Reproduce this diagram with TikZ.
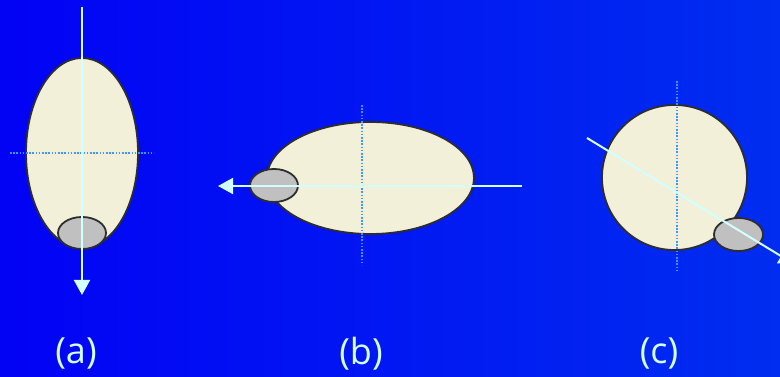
\documentclass[tikz,border=0pt]{standalone}
\usepackage{fontspec}
\setmainfont{Open Sans}
\usetikzlibrary{shapes.geometric,arrows.meta}
\definecolor{bgleft}{RGB}{2,2,245}
\definecolor{bgright}{RGB}{0,45,240}
\definecolor{grainfill}{RGB}{243,240,218}
\definecolor{grainline}{RGB}{45,45,45}
\definecolor{spotfill}{RGB}{192,192,192}
\definecolor{axiscol}{RGB}{210,255,255}
\definecolor{dotcol}{RGB}{60,150,255}
\begin{document}
\begin{tikzpicture}[x=1pt,y=1pt,
  grain/.style={ellipse, draw=grainline, fill=grainfill, line width=1.8pt, inner sep=0pt},
  spot/.style={ellipse, draw=grainline, fill=spotfill, line width=1.8pt, inner sep=0pt,
    minimum width=48, minimum height=32},
  guide/.style={dotcol, line width=1.6pt, dash pattern=on 1.6pt off 1.6pt},
  axis/.style={axiscol, line width=2pt, -{Triangle[length=15pt,width=16pt]}},
  caption/.style={axiscol, font=\fontsize{36}{38}\selectfont}]
% fondo
\useasboundingbox (0,0) rectangle (780,377);
\clip (0,0) rectangle (780,377);
\shade[left color=bgleft, right color=bgright] (0,0) rectangle (780,377);
% (a) grano vertical
\node[grain, minimum width=112, minimum height=190] (grainA) at (82,224) {};
\node[spot] (spotA) at (82,144) {};
\coordinate (guideA1) at (10,224);
\coordinate (guideA2) at (154,224);
\draw[guide] (guideA1) -- (guideA2);
\coordinate (axisA1) at (82,370);
\coordinate (axisA2) at (82,82);
\draw[axis] (axisA1) -- (axisA2);
% (b) grano horizontal
\node[grain, minimum width=207, minimum height=112] (grainB) at (370.5,199) {};
\node[spot, minimum height=33] (spotB) at (274,191.5) {};
\coordinate (guideB1) at (362,272);
\coordinate (guideB2) at (362,112);
\draw[guide] (guideB1) -- (guideB2);
\coordinate (axisB1) at (522,191);
\coordinate (axisB2) at (218,191);
\draw[axis] (axisB1) -- (axisB2);
% (c) grano redondo
\node[grain, circle, minimum size=145] (grainC) at (674.5,199.5) {};
\node[spot, minimum width=49, minimum height=33] (spotC) at (738.5,142.5) {};
\coordinate (guideC1) at (677,296);
\coordinate (guideC2) at (677,105);
\draw[guide] (guideC1) -- (guideC2);
\coordinate (axisC1) at (587,239);
\coordinate (axisC2) at (794,113);
\draw[axis] (axisC1) -- (axisC2);
% rótulos
\node[caption] (capA) at (76,23) {(a)};
\node[caption] (capB) at (361,23) {(b)};
\node[caption] (capC) at (659,23) {(c)};
\end{tikzpicture}
\end{document}
